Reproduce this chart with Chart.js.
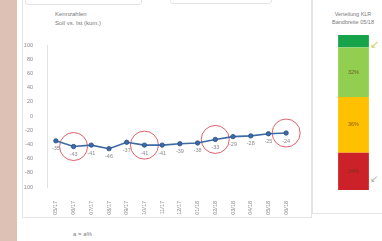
<!DOCTYPE html>
<html>
<head>
<meta charset="utf-8">
<script src="https://cdn.jsdelivr.net/npm/chart.js@4"></script>
<style>
  html, body { margin: 0; padding: 0; background: #fff; }
  body { width: 382px; height: 241px; position: relative; overflow: hidden; font-family: "Liberation Sans", Arial, sans-serif; }
  .strip { position: absolute; left: 0; top: 0; width: 17px; height: 241px; background: #dcc1b4; }
  .box { position: absolute; border: 1px solid #e4e4e4; }
  .txt { position: absolute; color: #7a7a7a; font-size: 6px; line-height: 8px; white-space: nowrap; }
  #mainWrap { position: absolute; left: 24px; top: 30px; width: 286px; height: 186px; }
  #sideWrap { position: absolute; left: 325px; top: 35px; width: 57px; height: 155px; }
</style>
</head>
<body>
<div class="strip"></div>
<div class="box" style="left:25px; top:-10px; width:115px; height:13px; border-radius:3px;"></div>
<div class="box" style="left:170px; top:-10px; width:100px; height:12px; border-radius:3px;"></div>
<div class="box" style="left:22px; top:-2px; width:288px; height:219px; border-top:none;"></div>
<div class="box" style="left:312px; top:-2px; width:80px; height:215px; border-top:none;"></div>

<div class="txt" style="left:55px; top:10px;">Kennzahlen</div>
<div class="txt" style="left:55px; top:19px;">Soll vs. Ist (kum.)</div>
<div class="txt" style="left:322px; top:10px; width:62px; text-align:center; font-size:5.5px;">Verteilung KLR</div>
<div class="txt" style="left:322px; top:18px; width:62px; text-align:center; font-size:5.5px;">Bandbreite 05/18</div>
<div class="txt" style="left:370px; top:38px; font-size:11px; line-height:12px; color:#c9d25a;">&#8601;</div>
<div class="txt" style="left:370px; top:173px; font-size:10px; line-height:12px; color:#aab59a;">&#8601;</div>
<div class="txt" style="left:73px; top:230px;">a = a%</div>

<div id="mainWrap"><canvas id="mainChart"></canvas></div>
<div id="sideWrap"><canvas id="sideChart"></canvas></div>

<script>
// ---------- data ----------
const months = ["05/17", "06/17", "07/17", "08/17", "09/17", "10/17", "11/17",
                "12/17", "01/18", "02/18", "03/18", "04/18", "05/18", "06/18"];
const kpiValues = [-35, -43, -41, -46, -37, -41, -41, -39, -38, -33, -29, -28, -25, -24];
const highlightIdx = [1, 5, 9, 13];
const yTicks = { min: -100, max: 100, step: 20 };

const bandLabels = ["rot", "gelb", "hellgrün", "grün"];
const bandValues = [24, 36, 32, 8];
const bandColors = ["#cc2128", "#ffc000", "#92cf50", "#16a34a"];

// ---------- helpers ----------
const highlightData = kpiValues.map((v, i) => highlightIdx.includes(i) ? v : null);

const pointLabels = {
    id: "pointLabels",
    afterDatasetsDraw(chart) {
        const ctx = chart.ctx;
        const meta = chart.getDatasetMeta(0);
        ctx.save();
        ctx.font = "5.5px 'Liberation Sans', Arial, sans-serif";
        ctx.fillStyle = "#8a8a8a";
        ctx.textAlign = "center";
        ctx.textBaseline = "middle";
        meta.data.forEach((pt, i) => {
            ctx.fillText(String(kpiValues[i]), pt.x, pt.y + 8);
        });
        ctx.restore();
    }
};

const bandText = {
    id: "bandText",
    afterDatasetsDraw(chart) {
        const ctx = chart.ctx;
        ctx.save();
        ctx.font = "5.5px 'Liberation Sans', Arial, sans-serif";
        ctx.fillStyle = "rgba(90,60,20,0.75)";
        ctx.textAlign = "center";
        ctx.textBaseline = "middle";
        chart.data.datasets.forEach((ds, i) => {
            if (ds.data[0] < 15) return;
            const bar = chart.getDatasetMeta(i).data[0];
            ctx.fillText(ds.data[0] + "%", bar.x, (bar.y + bar.base) / 2);
        });
        ctx.restore();
    }
};

// ---------- main line chart ----------
new Chart(document.getElementById("mainChart"), {
    type: "line",
    data: {
        labels: months,
        datasets: [
            {
                data: kpiValues,
                borderColor: "#3d6aa6",
                backgroundColor: "#3d6aa6",
                borderWidth: 1.6,
                pointRadius: 2.2,
                pointBorderColor: "#2b4f80",
                pointBorderWidth: 0.8,
                tension: 0
            },
            {
                data: highlightData,
                showLine: false,
                pointRadius: 14,
                pointBorderColor: "rgba(214,70,82,0.85)",
                pointBackgroundColor: "rgba(0,0,0,0)",
                pointBorderWidth: 1
            }
        ]
    },
    options: {
        responsive: true,
        maintainAspectRatio: false,
        animation: false,
        layout: { padding: { top: 5, right: 3, left: 0, bottom: 0 } },
        plugins: { legend: { display: false }, tooltip: { enabled: false } },
        scales: {
            x: {
                offset: true,
                grid: { display: false },
                border: { display: false },
                ticks: {
                    minRotation: 90, maxRotation: 90, padding: 6,
                    color: "#8a8a8a",
                    font: { size: 5.5 }
                },
                afterFit: s => { s.height = 29; }
            },
            y: {
                min: yTicks.min, max: yTicks.max,
                grid: { display: false },
                border: { display: true, color: "#e2e2e2" },
                ticks: {
                    stepSize: yTicks.step,
                    color: "#8a8a8a",
                    font: { size: 5.5 },
                    padding: 6
                },
                afterFit: s => { s.width = 23; }
            }
        }
    },
    plugins: [pointLabels]
});

// ---------- right stacked band ----------
new Chart(document.getElementById("sideChart"), {
    type: "bar",
    data: {
        labels: [""],
        datasets: bandValues.map((v, i) => ({
            label: bandLabels[i],
            data: [v],
            backgroundColor: bandColors[i],
            borderWidth: 0,
            categoryPercentage: 1,
            barPercentage: 0.54
        }))
    },
    options: {
        responsive: true,
        maintainAspectRatio: false,
        animation: false,
        layout: { padding: 0 },
        plugins: { legend: { display: false }, tooltip: { enabled: false } },
        scales: {
            x: { stacked: true, display: false },
            y: { stacked: true, display: false, min: 0, max: bandValues.reduce((a, b) => a + b, 0) }
        }
    },
    plugins: [bandText]
});
</script>
</body>
</html>
